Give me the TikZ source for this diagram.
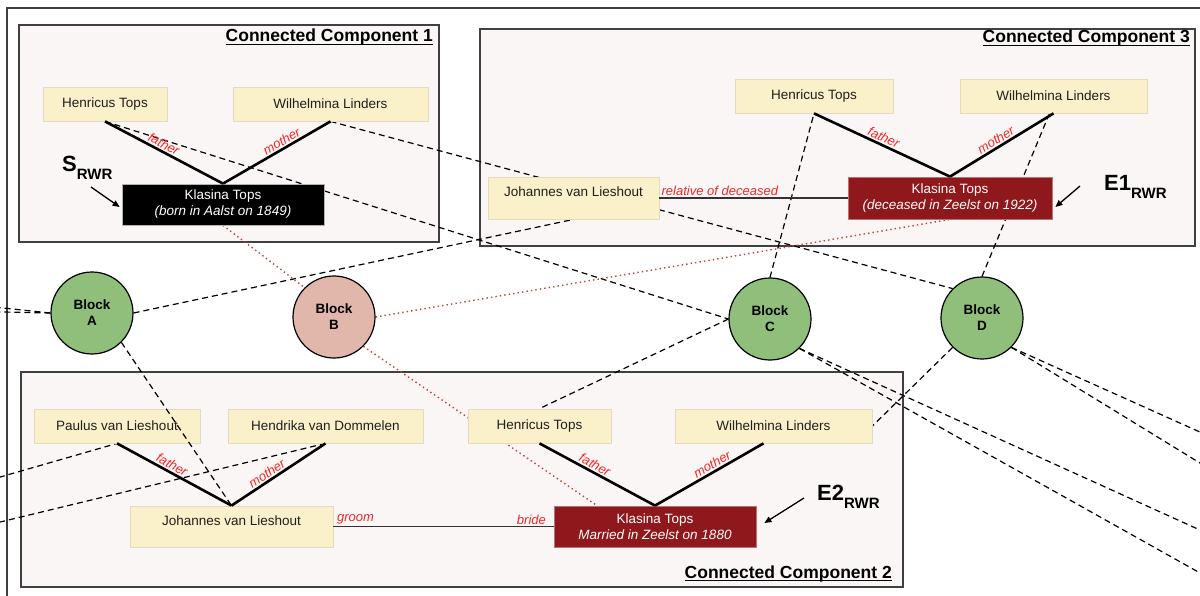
\documentclass[tikz,border=0pt]{standalone}
\usepackage{fontspec}
\setmainfont{Liberation Sans}
\usetikzlibrary{arrows.meta,calc}
\pgfdeclarelayer{bg}
\pgfdeclarelayer{back}
\pgfdeclarelayer{fg}
\pgfsetlayers{bg,back,main,fg}
\definecolor{ccfill}{HTML}{F9F6F5}
\definecolor{ccdraw}{HTML}{404040}
\definecolor{pfill}{HTML}{FAF0C9}
\definecolor{pdraw}{HTML}{E3DABF}
\definecolor{kred}{HTML}{8E181B}
\definecolor{bgreen}{HTML}{8FBF7A}
\definecolor{bpink}{HTML}{E1B6AB}
\definecolor{lblred}{HTML}{F02828}
\definecolor{dotred}{HTML}{C83C3C}
\tikzset{
 ccbox/.style={draw=ccdraw, fill=ccfill, line width=1.4pt},
 person/.style={draw=pdraw, fill=pfill, line width=0.8pt, minimum height=34pt, inner sep=0pt,
   font=\fontsize{13.5}{16}\selectfont, text=black!88},
 raised/.style={text height=10pt, text depth=12pt},
 target/.style={person, fill=black, draw=gray!60, text=white, minimum height=41pt, align=center},
 eventbox/.style={target, fill=kred, draw=kred!60!white},
 block/.style={circle, draw=black, line width=1.2pt, minimum size=82pt, inner sep=0pt, align=center,
   font=\bfseries\fontsize{13.5}{16}\selectfont},
 parentlink/.style={line width=2.6pt, draw=black},
 rel/.style={line width=1.5pt, draw=black!80},
 lbl/.style={text=lblred, font=\itshape\fontsize{13}{15}\selectfont, inner sep=1.5pt},
 blocklink/.style={draw=black, dash pattern=on 6pt off 4pt, line width=1.2pt},
 redlink/.style={draw=dotred, line width=1.4pt, dash pattern=on 1.4pt off 3.1pt},
 cctitle/.style={font=\bfseries\fontsize{17.5}{20}\selectfont, inner sep=0pt, anchor=base east},
 rwr/.style={font=\bfseries\fontsize{22}{24}\selectfont, inner sep=0pt, anchor=base west},
 pointer/.style={-{Triangle[length=7pt,width=6pt]}, line width=1.3pt},
}
\newcommand{\rwrsub}[1]{#1\raisebox{-8pt}{\fontsize{15}{15}\selectfont RWR}}
\begin{document}
\begin{tikzpicture}[x=1pt,y=1pt]
\useasboundingbox (0,0) rectangle (1200,-596);

% outer frame and component boxes
\begin{pgfonlayer}{bg}
\fill[white] (0,0) rectangle (1200,-596);
\draw[line width=1.8pt, draw=ccdraw] (7,-610) -- (7,-8) -- (1215,-8);
\draw[ccbox] (19,-25) rectangle (439,-242);
\draw[ccbox] (480,-29) rectangle (1195,-246);
\draw[ccbox] (21,-372) rectangle (903,-587);
\end{pgfonlayer}

% titles
\node[cctitle] (t1) at (433,-42) {Connected Component 1};
\draw[line width=1.3pt] ([yshift=-2.6pt]t1.base west) -- ([yshift=-2.6pt]t1.base east);
\node[cctitle] (t3) at (1190,-43) {Connected Component 3};
\draw[line width=1.3pt] ([yshift=-2.6pt]t3.base west) -- ([yshift=-2.6pt]t3.base east);
\node[cctitle] (t2) at (892,-578) {Connected Component 2};
\draw[line width=1.3pt] ([yshift=-2.6pt]t2.base west) -- ([yshift=-2.6pt]t2.base east);

% component 1
\node[person, minimum width=124pt] (hen1) at (105,-104) {Henricus Tops};
\node[person, minimum width=195pt] (wil1) at (330.5,-104) {Wilhelmina Linders};
\node[target, minimum width=202pt] (kla1) at (223,-204.5) {Klasina Tops\\\textit{(born in Aalst on 1849)}};

% component 3
\node[person, minimum width=158pt] (hen3) at (814,-96) {Henricus Tops};
\node[person, minimum width=187pt] (wil3) at (1053.5,-96) {Wilhelmina Linders};
\node[person, raised, minimum width=171pt, minimum height=42pt] (joh3) at (573.5,-198) {Johannes van Lieshout};
\node[eventbox, minimum width=204pt, minimum height=42pt] (kla3) at (950,-198) {Klasina Tops\\\textit{(deceased in Zeelst on 1922)}};

% component 2
\node[person, minimum width=166pt] (pau) at (117,-426) {Paulus van Lieshout};
\node[person, minimum width=195pt] (hdk) at (325.5,-426) {Hendrika van Dommelen};
\node[person, raised, minimum width=203pt, minimum height=41pt] (joh2) at (231.5,-526.5) {Johannes van Lieshout};
\node[person, minimum width=143pt] (hen2) at (539.5,-426) {Henricus Tops};
\node[person, minimum width=197pt] (wil2) at (773.5,-426) {Wilhelmina Linders};
\node[eventbox, minimum width=202pt] (kla2) at (655,-526.5) {Klasina Tops\\\textit{Married in Zeelst on 1880}};

% blocks
\node[block, fill=bgreen] (A) at (92,-313) {Block\\A};
\node[block, fill=bpink] (B) at (334,-317) {Block\\B};
\node[block, fill=bgreen] (C) at (770,-319) {Block\\C};
\node[block, fill=bgreen] (D) at (982,-318) {Block\\D};

% free ends of connectors leaving the picture
\coordinate (fA1) at (-30,-304.5);
\coordinate (fA2) at (-30,-311.3);
\coordinate (fL1) at (-30,-485.7);
\coordinate (fL2) at (-30,-529.3);
\coordinate (fC1) at (1250,-552.7);
\coordinate (fC2) at (1250,-601);
\coordinate (fD1) at (1250,-454.5);
\coordinate (fD2) at (1250,-493.7);

% block connectors
\begin{pgfonlayer}{back}
\draw[blocklink] (hen1.south) -- (C.west);
\draw[blocklink] (wil1.south) -- (D.north west);
\draw[blocklink] (A.east) -- (joh3.south);
\draw[blocklink] (A.west) -- (fA1);
\draw[blocklink] (A.west) -- (fA2);
\draw[blocklink] (fL1) -- (pau.south);
\draw[blocklink] (fL2) -- (hdk.south);
\draw[blocklink] (C.north) -- (hen3.south);
\draw[blocklink] (C.west) -- (hen2.north);
\draw[blocklink] (C.south east) -- (fC1);
\draw[blocklink] (C.south east) -- (fC2);
\draw[blocklink] (D.north) -- ([xshift=-4pt]wil3.south);
\draw[blocklink] (D.south west) -- (wil2.east);
\draw[blocklink] (D.south east) -- (fD1);
\draw[blocklink] (D.south east) -- (fD2);
\draw[redlink] (kla1.south) -- (B.north west);
\draw[redlink] (B.east) -- (kla3.south);
\draw[redlink] (B.south east) -- ([xshift=-58pt]kla2.north);
\end{pgfonlayer}
\begin{pgfonlayer}{fg}
\draw[blocklink] (A.south east) -- (joh2.north);
\end{pgfonlayer}

% parent links
\draw[parentlink] (hen1.south) -- node[lbl, sloped, above, pos=0.47] {father} (kla1.north);
\draw[parentlink] (kla1.north) -- node[lbl, sloped, above, pos=0.58] {mother} (wil1.south);
\draw[parentlink] (hen3.south) -- node[lbl, sloped, above, pos=0.49] {father} (kla3.north);
\draw[parentlink] (kla3.north) -- node[lbl, sloped, above, pos=0.48] {mother} (wil3.south);
\draw[parentlink] (pau.south) -- node[lbl, sloped, above, pos=0.45] {father} (joh2.north);
\draw[parentlink] (joh2.north) -- node[lbl, sloped, above, pos=0.42] {mother} (hdk.south);
\draw[parentlink] (hen2.south) -- node[lbl, sloped, above, pos=0.45] {father} (kla2.north);
\draw[parentlink] (kla2.north) -- node[lbl, sloped, above, pos=0.56] {mother} ([xshift=-10pt]wil2.south);

% relations
\draw[rel] (joh3.east) -- node[lbl, pos=0, anchor=south west] {relative of deceased} (kla3.west);
\draw[rel] (joh2.east) -- node[lbl, pos=0, anchor=south west, inner xsep=3pt] {groom}
  node[lbl, pos=1, anchor=south east, inner xsep=7pt] {bride} (kla2.west);

% RWR markers
\node[rwr] (srwr) at (62,-172) {\rwrsub{S}};
\coordinate (sTail) at (91,-187);
\draw[pointer] (sTail) -- ($(kla1.west)+(-2,-2.5)$);
\node[rwr] (e1rwr) at (1104,-191) {\rwrsub{E1}};
\coordinate (e1Tail) at (1080,-186);
\draw[pointer] (e1Tail) -- ($(kla3.east)+(3,-9)$);
\node[rwr] (e2rwr) at (817,-500) {\rwrsub{E2}};
\coordinate (e2Tail) at (804,-498);
\draw[pointer] (e2Tail) -- ($(kla2.east)+(8,3.5)$);
\end{tikzpicture}
\end{document}
